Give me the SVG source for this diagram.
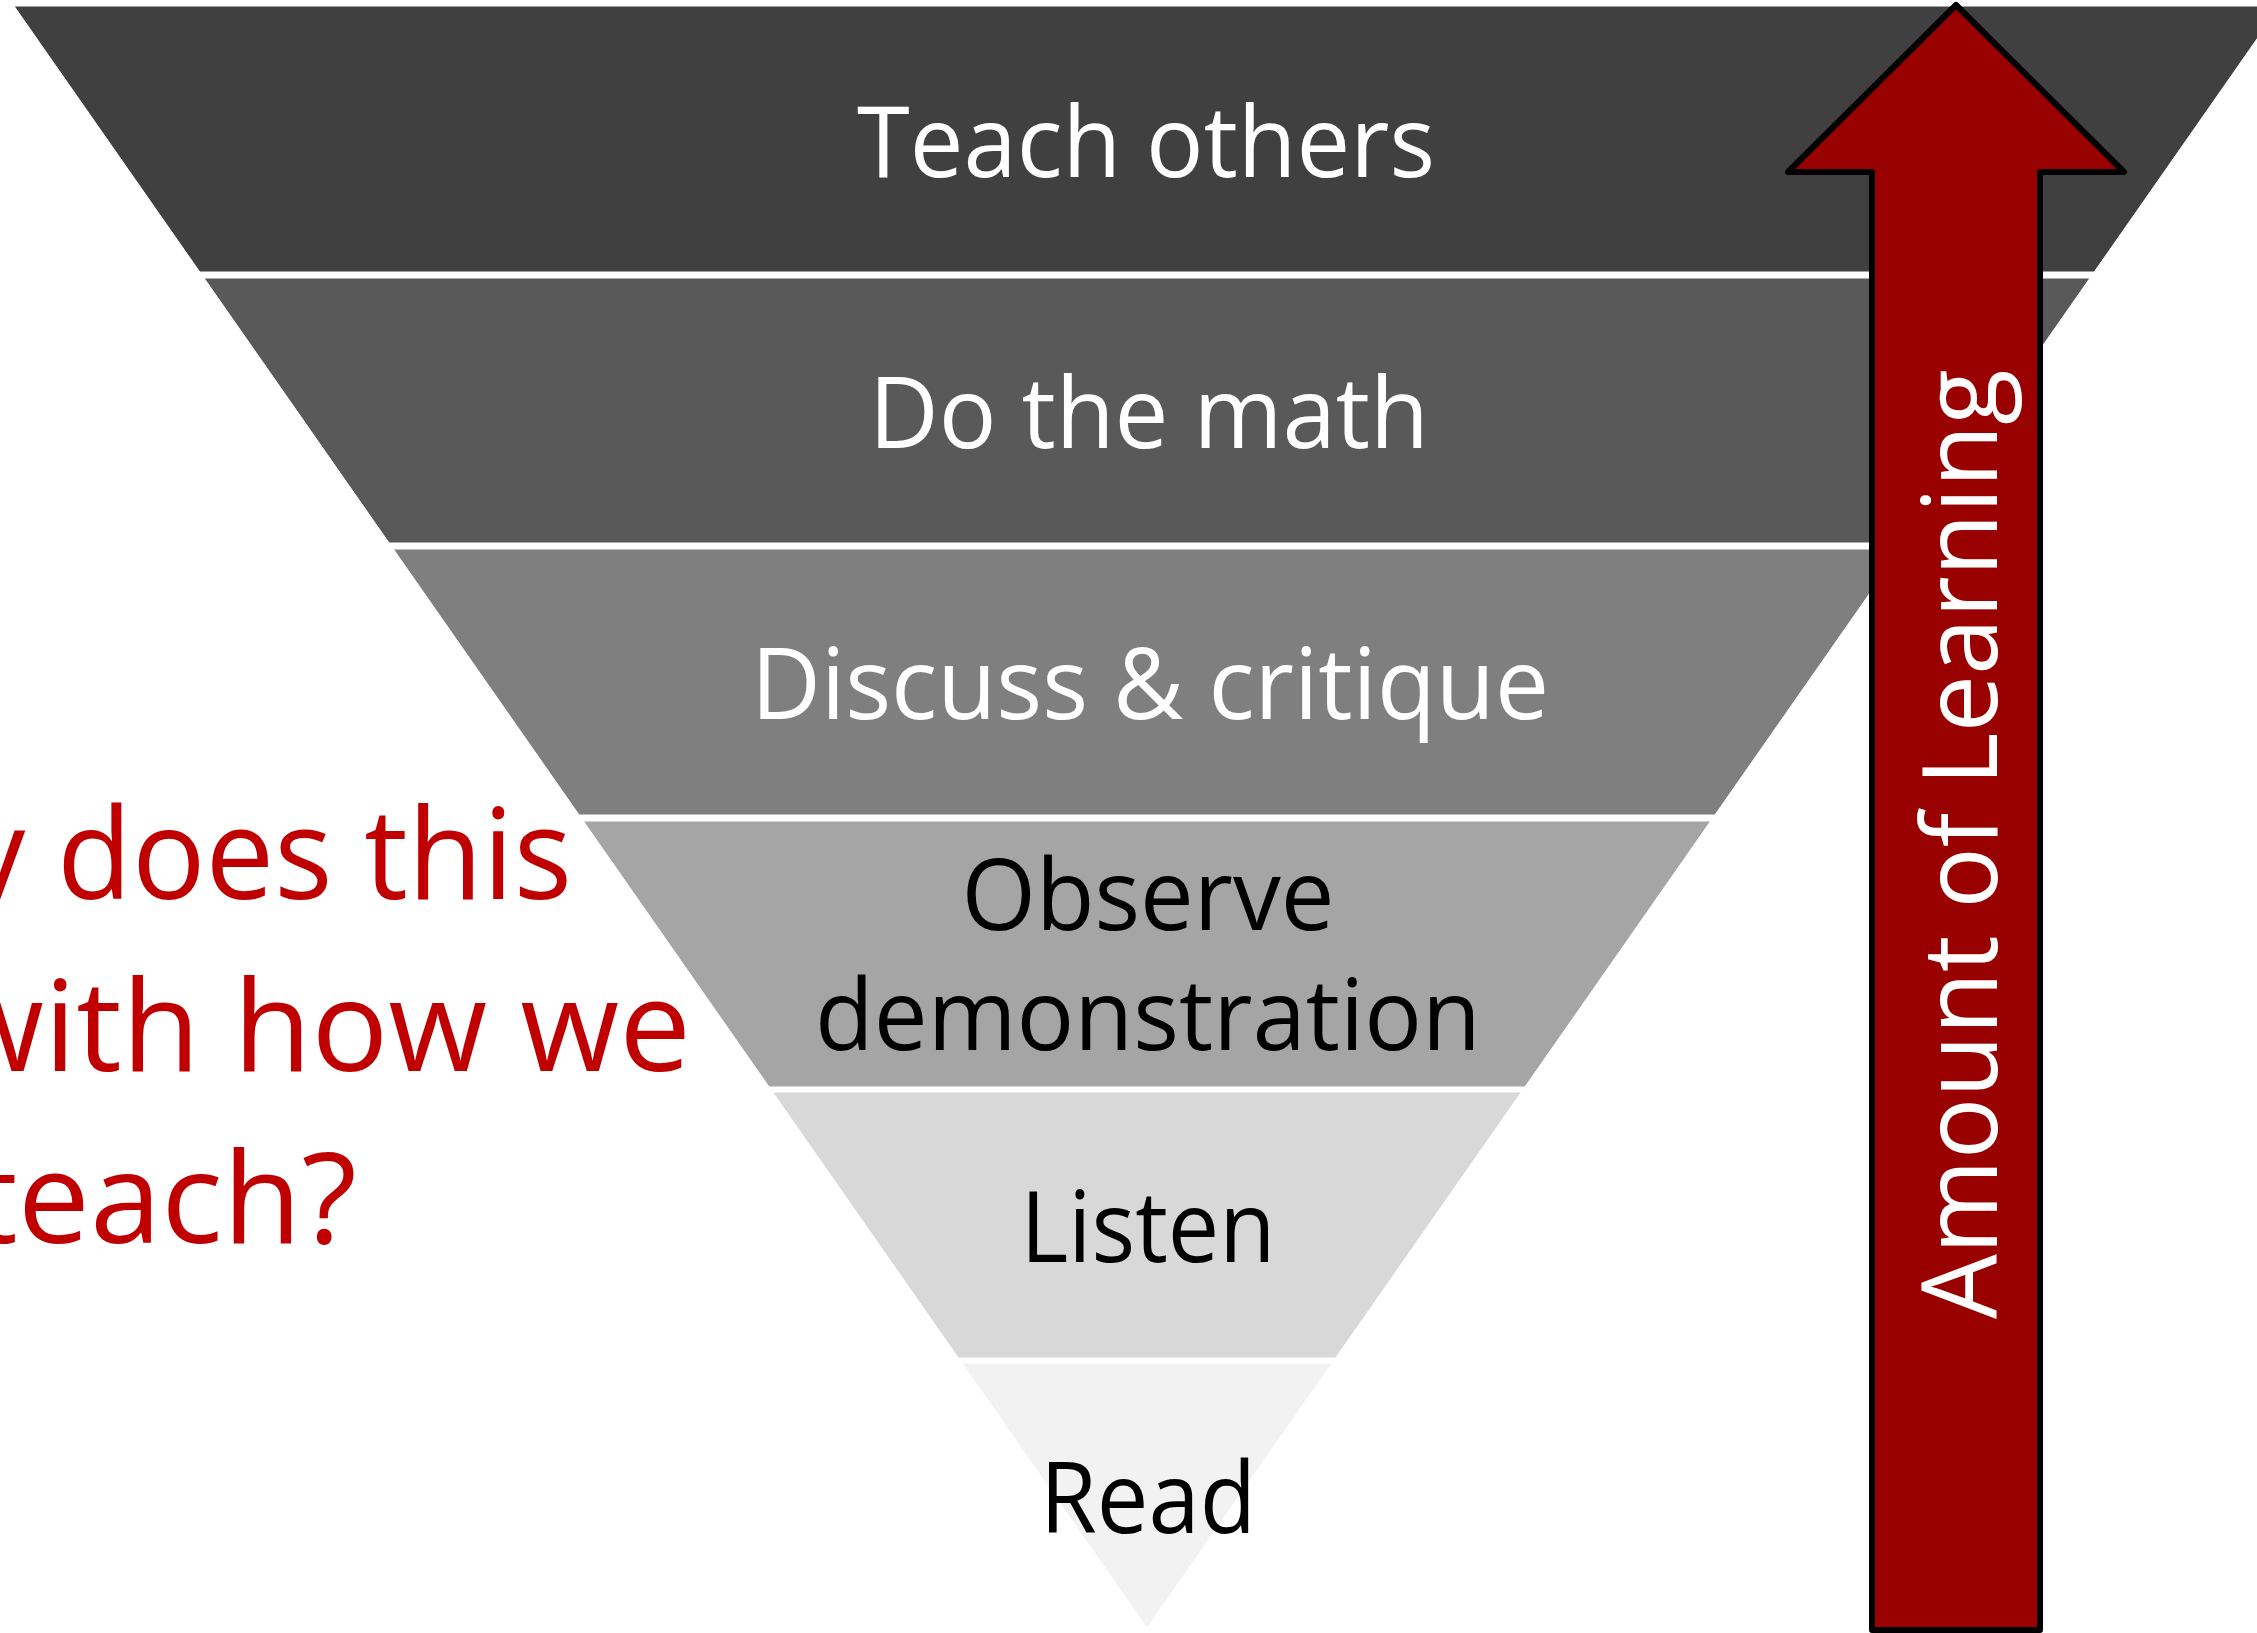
<svg xmlns="http://www.w3.org/2000/svg" width="2257" height="1633" viewBox="0 0 2257 1633">
  <style>
    .band { stroke: #ffffff; stroke-width: 1; }
    .lbl { font-family: "Open Sans", "Noto Sans", "Liberation Sans", sans-serif; font-size: 98px; text-anchor: middle; }
    .white { fill: #ffffff; }
    .black { fill: #000000; }
    .q { font-family: "Open Sans", "Noto Sans", "Liberation Sans", sans-serif; font-size: 126px; fill: #C00000; text-anchor: end; }
    .arrow { fill: #990000; stroke: #000000; stroke-width: 6; stroke-linejoin: round; }
    .arrowtxt { font-family: "Open Sans", "Noto Sans", "Liberation Sans", sans-serif; font-size: 105px; fill: #ffffff; text-anchor: middle; }
  </style>
  <rect x="0" y="0" width="2257" height="1633" fill="#ffffff"/>

  <g id="band-teach-others">
    <polygon class="band" fill="#404040" points="14,6 2280,6 2094.2,272 199.8,272"/>
    <text class="lbl white" x="1146" y="177" textLength="578" lengthAdjust="spacingAndGlyphs">Teach others</text>
  </g>
  <g id="band-do-the-math">
    <polygon class="band" fill="#595959" points="204,278 2090,278 1904.9,543 389.1,543"/>
    <text class="lbl white" x="1149" y="448" textLength="560" lengthAdjust="spacingAndGlyphs">Do the math</text>
  </g>
  <g id="band-discuss">
    <polygon class="band" fill="#7F7F7F" points="393.3,549 1900.7,549 1714.9,815 579.1,815"/>
    <text class="lbl white" x="1150" y="719" textLength="798" lengthAdjust="spacingAndGlyphs">Discuss &amp; critique</text>
  </g>
  <g id="band-observe">
    <polygon class="band" fill="#A5A5A5" points="583.3,821 1710.7,821 1524.9,1087 769.1,1087"/>
    <text class="lbl black" x="1148" y="930" textLength="373" lengthAdjust="spacingAndGlyphs">Observe</text>
    <text class="lbl black" x="1148" y="1050" textLength="666" lengthAdjust="spacingAndGlyphs">demonstration</text>
  </g>
  <g id="band-listen">
    <polygon class="band" fill="#D8D8D8" points="772.6,1092 1521.4,1092 1335.6,1358 958.4,1358"/>
    <text class="lbl black" x="1148" y="1262" textLength="255" lengthAdjust="spacingAndGlyphs">Listen</text>
  </g>
  <g id="band-read">
    <polygon class="band" fill="#F2F2F2" points="961.9,1363 1332.1,1363 1147,1628"/>
    <text class="lbl black" x="1148" y="1533" textLength="216" lengthAdjust="spacingAndGlyphs">Read</text>
  </g>

  <g id="question">
    <text class="q" x="572" y="899" textLength="608" lengthAdjust="spacingAndGlyphs">y does this</text>
    <text class="q" x="691" y="1071" textLength="746" lengthAdjust="spacingAndGlyphs">with how we</text>
    <text class="q" x="357" y="1243" textLength="385" lengthAdjust="spacingAndGlyphs">teach?</text>
  </g>

  <g id="connectors">
    <g id="amount-of-learning-arrow">
      <polygon class="arrow" points="1956,5 2124,172 2040,172 2040,1630 1872,1630 1872,172 1788,172"/>
      <text class="arrowtxt" transform="translate(1997,844) rotate(-90)" x="0" y="0" textLength="950" lengthAdjust="spacingAndGlyphs">Amount of Learning</text>
    </g>
  </g>
</svg>
